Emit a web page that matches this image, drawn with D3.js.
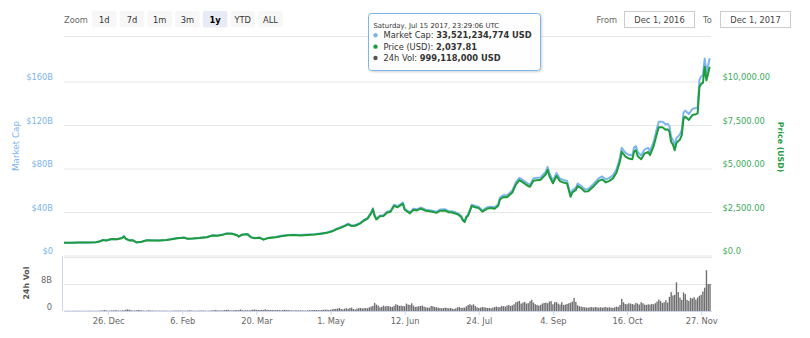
<!DOCTYPE html>
<html>
<head>
<meta charset="utf-8">
<script src="https://cdn.jsdelivr.net/npm/d3@7"></script>
<style>
  html, body { margin: 0; padding: 0; background: #fff; }
  svg { display: block; font-family: "DejaVu Sans", Verdana, sans-serif; }
</style>
</head>
<body>
<svg id="chart" width="810" height="338"></svg>
<script>
// ---- Bitcoin, Dec 1 2016 – Dec 1 2017 ----
const priceDates = [
  "2016-12-01","2016-12-05","2016-12-10","2016-12-15","2016-12-19","2016-12-21","2016-12-23","2016-12-25","2016-12-28","2016-12-31",
  "2017-01-03","2017-01-04","2017-01-05","2017-01-07","2017-01-09","2017-01-11","2017-01-14","2017-01-17","2017-01-20","2017-01-24","2017-01-28","2017-01-31",
  "2017-02-03","2017-02-07","2017-02-09","2017-02-12","2017-02-16","2017-02-20","2017-02-23","2017-02-26",
  "2017-03-01","2017-03-03","2017-03-06","2017-03-09","2017-03-10","2017-03-12","2017-03-15","2017-03-17","2017-03-19","2017-03-22","2017-03-24","2017-03-27","2017-03-31",
  "2017-04-03","2017-04-07","2017-04-10","2017-04-14","2017-04-18","2017-04-22","2017-04-26","2017-04-29",
  "2017-05-02","2017-05-04","2017-05-06","2017-05-09","2017-05-11","2017-05-13","2017-05-15","2017-05-18","2017-05-20","2017-05-22","2017-05-24","2017-05-25","2017-05-26","2017-05-27","2017-05-29","2017-05-31",
  "2017-06-02","2017-06-04","2017-06-06","2017-06-08","2017-06-11","2017-06-12","2017-06-15","2017-06-17","2017-06-19","2017-06-21","2017-06-24","2017-06-27","2017-06-30",
  "2017-07-02","2017-07-05","2017-07-07","2017-07-09","2017-07-12","2017-07-14","2017-07-15","2017-07-16","2017-07-17","2017-07-18","2017-07-20","2017-07-22","2017-07-24","2017-07-26","2017-07-29","2017-07-31",
  "2017-08-02","2017-08-04","2017-08-05","2017-08-07","2017-08-09","2017-08-12","2017-08-14","2017-08-16","2017-08-17","2017-08-19","2017-08-21","2017-08-22","2017-08-24","2017-08-26","2017-08-28","2017-08-31",
  "2017-09-01","2017-09-02","2017-09-04","2017-09-06","2017-09-08","2017-09-10","2017-09-12","2017-09-14","2017-09-15","2017-09-17","2017-09-18","2017-09-20","2017-09-22","2017-09-24","2017-09-27","2017-09-30",
  "2017-10-02","2017-10-04","2017-10-06","2017-10-08","2017-10-10","2017-10-12","2017-10-13","2017-10-15","2017-10-17","2017-10-19","2017-10-20","2017-10-21","2017-10-22","2017-10-24","2017-10-26","2017-10-28","2017-10-29","2017-10-31",
  "2017-11-02","2017-11-03","2017-11-05","2017-11-07","2017-11-08","2017-11-09","2017-11-10","2017-11-11","2017-11-12","2017-11-13","2017-11-15","2017-11-16","2017-11-17","2017-11-18","2017-11-20","2017-11-22","2017-11-24","2017-11-25","2017-11-26","2017-11-27","2017-11-28","2017-11-29","2017-11-30",
  "2017-12-01T20:00:00Z"
];

// Price in USD
const priceUsd = [
  755,760,770,778,790,830,915,895,975,960,
  1030,1130,990,895,905,780,820,905,895,890,920,965,
  1015,1055,985,1000,1035,1080,1175,1170,
  1225,1285,1275,1195,1110,1225,1250,1070,1025,1045,940,1040,1075,
  1140,1190,1205,1180,1210,1230,1285,1330,
  1420,1520,1590,1720,1820,1720,1740,1880,2040,2150,2450,2690,2300,2100,2280,2300,
  2490,2540,2880,2800,3000,2660,2450,2660,2620,2720,2600,2560,2480,
  2600,2610,2510,2500,2400,2250,2040,1950,2230,2330,2870,2800,2750,2550,2730,2760,
  2720,2890,3250,3390,3380,3650,4100,4360,4300,4160,4020,3980,4320,4360,4380,4700,
  4950,4600,4180,4600,4300,4220,4170,3400,3650,3800,4020,3900,3700,3720,4000,4320,
  4400,4230,4320,4460,4780,5450,5990,5720,5600,5560,6000,6080,5750,5560,5900,5980,5800,6300,
  7050,7400,7400,7250,7280,7150,6550,6400,6080,6500,6700,6950,7900,8010,7820,8100,8150,8200,9700,9900,9950,10880,10100,
  10880
];

// Market cap in billions of USD
const marketCapB = [
  12.12,12.20,12.36,12.49,12.68,13.32,14.69,14.36,15.65,15.41,
  16.58,18.19,15.94,14.41,14.57,12.56,13.20,14.57,14.41,14.33,14.81,15.54,
  16.40,17.05,15.92,16.16,16.73,17.45,18.99,18.91,
  19.87,20.84,20.68,19.38,18.00,19.87,20.28,17.36,16.63,16.95,15.25,16.87,17.44,
  18.55,19.36,19.61,19.20,19.69,20.01,20.91,21.64,
  23.17,24.81,25.95,28.07,29.70,28.07,28.40,30.68,33.29,35.09,39.98,43.90,37.54,34.27,37.21,37.54,
  40.79,41.61,47.17,45.86,49.14,43.57,40.13,43.57,42.92,44.55,42.59,41.93,40.62,
  42.74,42.91,41.26,41.10,39.46,36.99,33.54,32.06,36.66,38.31,47.18,46.03,45.21,41.92,44.88,45.37,
  44.88,47.69,53.63,55.94,55.77,60.23,67.65,71.94,70.95,68.64,66.33,65.67,71.28,71.94,72.27,77.55,
  81.97,76.18,69.22,76.18,71.21,69.88,69.06,56.30,60.44,62.93,66.57,64.58,61.27,61.60,66.24,71.54,
  73.13,70.30,71.80,74.13,79.44,90.58,99.55,95.07,93.07,92.41,99.72,101.05,95.57,92.41,98.06,99.39,96.40,104.71,
  117.66,123.51,123.51,121.00,121.50,119.33,109.32,106.82,101.48,108.49,111.82,116.00,131.85,133.69,130.52,135.19,136.02,136.86,161.89,165.23,166.07,181.59,168.57,
  181.91
];

// 24h volume, billions of USD, one value per day starting at volumeStart
const volumeStart = "2016-12-02";
const volumeB = [
  // Dec
  0.08,0.07,0.07,0.06,0.08,0.07,0.08,0.08,0.07,0.07,0.06,0.07,0.08,0.09,0.08,0.08,0.07,0.07,0.09,0.10,0.15,0.20,0.28,0.15,0.12,0.12,0.18,0.20,0.22,0.20,0.15,
  // Jan
  0.15,0.20,0.22,0.35,0.50,0.35,0.25,0.15,0.15,0.20,0.30,0.25,0.18,0.12,0.10,0.15,0.20,0.18,0.14,0.12,0.12,0.10,0.10,0.11,0.12,0.10,0.10,0.08,0.07,0.09,0.12,
  // Feb
  0.14,0.13,0.15,0.14,0.10,0.10,0.12,0.13,0.20,0.19,0.12,0.09,0.10,0.12,0.14,0.13,0.15,0.10,0.09,0.12,0.15,0.20,0.22,0.33,0.20,0.16,0.18,0.22,
  // Mar
  0.25,0.30,0.38,0.20,0.18,0.20,0.30,0.25,0.28,0.45,0.25,0.20,0.25,0.22,0.20,0.30,0.40,0.45,0.35,0.30,0.30,0.35,0.30,0.50,0.35,0.30,0.28,0.30,0.25,0.28,0.30,
  // Apr
  0.25,0.20,0.30,0.35,0.30,0.28,0.22,0.20,0.15,0.20,0.22,0.20,0.22,0.20,0.15,0.14,0.20,0.25,0.25,0.30,0.30,0.30,0.25,0.25,0.30,0.35,0.40,0.40,0.30,0.35,
  // May
  0.50,0.60,0.65,0.70,0.90,0.60,0.50,0.70,0.80,0.65,0.90,1.00,0.60,0.45,0.70,0.85,0.90,0.75,0.85,0.90,0.80,1.10,1.30,1.50,2.40,1.90,1.60,1.10,1.20,1.60,1.35,
  // Jun
  1.50,1.40,1.30,1.20,1.50,2.00,1.80,1.50,1.60,1.50,1.40,2.20,1.90,1.80,2.30,1.60,1.20,1.30,1.40,1.50,1.60,1.30,1.10,1.00,1.00,1.50,1.40,1.20,1.10,1.00,
  // Jul
  0.90,0.80,0.90,1.00,0.90,0.80,0.90,0.70,0.60,0.80,1.10,1.20,0.90,1.00,1.00,1.40,1.80,2.00,1.70,2.00,1.50,1.10,0.90,1.00,1.20,1.10,1.00,0.90,0.90,0.80,1.00,
  // Aug
  1.20,1.30,1.10,1.20,1.50,1.40,1.30,1.60,1.80,1.50,1.70,2.00,2.60,2.80,3.00,2.20,2.50,2.70,2.20,2.30,2.90,3.30,2.50,2.00,1.80,1.60,1.80,2.20,2.40,2.50,2.30,
  // Sep
  2.80,2.90,2.00,2.60,2.70,2.20,1.90,2.60,1.80,1.90,2.10,2.30,2.50,2.80,3.90,2.70,1.70,1.40,1.30,1.20,1.10,1.00,1.00,1.10,1.20,1.00,1.20,1.10,1.00,1.10,
  // Oct
  1.00,1.10,1.20,1.00,1.10,1.00,0.90,1.10,1.30,1.20,1.80,3.60,2.60,2.10,2.00,2.30,2.20,2.10,1.90,2.40,2.20,1.90,2.60,2.30,1.90,1.80,2.00,1.90,2.10,2.00,2.30,
  // Nov
  2.80,3.40,3.00,2.40,2.60,3.20,2.50,4.20,5.60,4.60,4.80,8.50,5.60,4.00,3.30,5.50,5.00,3.30,3.00,3.90,3.70,4.10,3.40,4.00,4.50,4.80,5.80,6.90,12.10,8.00,
  // Dec
  8.00
];

// Axis ticks and labels
const capTicks = [0, 40, 80, 120, 160];
const capTickLabels = ["$0", "$40B", "$80B", "$120B", "$160B"];
const priceTicks = [0, 2500, 5000, 7500, 10000];
const priceTickLabels = ["$0.0", "$2,500.00", "$5,000.00", "$7,500.00", "$10,000.00"];
const volTicks = [0, 8, 16];
const volTickLabels = ["0", "8B", ""];
const dateTicks = ["2016-12-26","2017-02-06","2017-03-20","2017-05-01","2017-06-12","2017-07-24","2017-09-04","2017-10-16","2017-11-27"];

// Range selector and tooltip text
const zoomButtons = ["1d", "7d", "1m", "3m", "1y", "YTD", "ALL"];
const selectedZoom = "1y";
const rangeFrom = "Dec 1, 2016";
const rangeTo = "Dec 1, 2017";
const tooltipHeader = "Saturday, Jul 15 2017, 23:29:06 UTC";
const tooltipLabels = ["Market Cap:", "Price (USD):", "24h Vol:"];
const tooltipValues = ["33,521,234,774 USD", "2,037.81", "999,118,000 USD"];

// ---- drawing ----
const C = {
  cap: "#7cb5ec",
  price: "#1c9c3c",
  priceLabel: "#3cab5c",
  vol: "#6e6e6e",
  grid: "#e6e6e6",
  axis: "#ccd6eb",
  text: "#666"
};
const FS = 8.3;
const FONT = '"DejaVu Sans", Verdana, sans-serif';
const svg = d3.select("#chart");
const parse = d3.isoParse;

const plotLeft = 64, plotRight = 712;
const x = d3.scaleUtc()
  .domain([parse("2016-12-01"), parse("2017-12-02")])
  .range([64, 710]);
const yCap = d3.scaleLinear().domain([0, 160]).range([256, 82]);
const yPrice = d3.scaleLinear().domain([0, 10000]).range([256, 82]);
const yVol = d3.scaleLinear().domain([0, 16]).range([311, 257]);

const priceData = priceDates.map((d, i) => ({ date: parse(d), price: priceUsd[i], cap: marketCapB[i] }));
const volStart = parse(volumeStart);
const volData = volumeB.map((v, i) => ({ date: d3.utcDay.offset(volStart, i), v }));

// separator under the range selector
svg.append("line")
  .attr("x1", 64).attr("x2", 711).attr("y1", 36.5).attr("y2", 36.5)
  .attr("stroke", C.grid).attr("stroke-width", 1);

// gridlines of the main pane
svg.append("g")
  .attr("transform", `translate(${plotLeft},-0.5)`)
  .call(d3.axisLeft(yCap).tickValues(capTicks).tickSize(-(plotRight - plotLeft)).tickFormat(""))
  .call(g => g.select(".domain").remove())
  .call(g => g.selectAll(".tick line").attr("stroke", C.grid));

// gridlines of the volume pane
svg.append("g")
  .attr("transform", `translate(${plotLeft},0)`)
  .call(d3.axisLeft(yVol).tickValues(volTicks).tickSize(-(plotRight - plotLeft)).tickFormat(""))
  .call(g => g.select(".domain").remove())
  .call(g => g.selectAll(".tick line").attr("stroke", C.grid));

// left axis labels: market cap
svg.append("g")
  .attr("transform", "translate(53,0)")
  .call(d3.axisLeft(yCap).tickValues(capTicks).tickSize(0).tickPadding(0)
    .tickFormat((d, i) => capTickLabels[i]))
  .call(g => g.select(".domain").remove())
  .call(g => g.selectAll("text").attr("y", -5).attr("fill", C.cap)
    .style("font-size", FS + "px").style("font-family", FONT));

// right axis labels: price
svg.append("g")
  .attr("transform", "translate(722.5,0)")
  .call(d3.axisRight(yPrice).tickValues(priceTicks).tickSize(0).tickPadding(0)
    .tickFormat((d, i) => priceTickLabels[i]))
  .call(g => g.select(".domain").remove())
  .call(g => g.selectAll("text").attr("y", -5).attr("fill", C.priceLabel)
    .style("font-size", FS + "px").style("font-family", FONT));

// volume axis labels
svg.append("g")
  .attr("transform", "translate(52,0)")
  .call(d3.axisLeft(yVol).tickValues(volTicks).tickSize(0).tickPadding(0)
    .tickFormat((d, i) => volTickLabels[i]))
  .call(g => g.select(".domain").remove())
  .call(g => g.selectAll("text").attr("y", -4).attr("fill", C.text)
    .style("font-size", FS + "px").style("font-family", FONT));

// volume pane left axis line
svg.append("line")
  .attr("x1", 62.5).attr("x2", 62.5).attr("y1", 256).attr("y2", 311)
  .attr("stroke", C.axis);

// volume bars
const pitch = x(d3.utcDay.offset(volStart, 1)) - x(volStart);
const barW = pitch * 0.78;
svg.append("g")
  .selectAll("rect")
  .data(volData)
  .join("rect")
  .attr("x", d => x(d.date) - barW / 2)
  .attr("width", barW)
  .attr("y", d => yVol(d.v))
  .attr("height", d => yVol(0) - yVol(d.v))
  .attr("fill", C.vol);

// x axis
svg.append("g")
  .attr("transform", "translate(0,311)")
  .call(d3.axisBottom(x).tickValues(dateTicks.map(parse)).tickSize(4).tickSizeOuter(0)
    .tickFormat(d3.utcFormat("%-d. %b")))
  .call(g => g.select(".domain").attr("stroke", C.axis).attr("d", `M${plotLeft},0.5H${plotRight}`))
  .call(g => g.selectAll(".tick line").attr("stroke", C.axis))
  .call(g => g.selectAll("text").attr("y", 7.5).attr("fill", C.text)
    .style("font-size", FS + "px").style("font-family", FONT));

// market cap line (under) and price line (over)
const capLine = d3.line().x(d => x(d.date)).y(d => yCap(d.cap));
const priceLine = d3.line().x(d => x(d.date)).y(d => yPrice(d.price));
svg.append("path").datum(priceData)
  .attr("d", capLine).attr("fill", "none")
  .attr("stroke", C.cap).attr("stroke-width", 2).attr("stroke-linejoin", "round");
svg.append("path").datum(priceData)
  .attr("d", priceLine).attr("fill", "none")
  .attr("stroke", C.price).attr("stroke-width", 2).attr("stroke-linejoin", "round");

// axis titles
svg.append("text")
  .attr("transform", "translate(18.5,146) rotate(-90)")
  .attr("text-anchor", "middle").attr("fill", C.cap)
  .style("font-size", "8.8px").text("Market Cap");
svg.append("text")
  .attr("transform", "translate(777.5,147) rotate(90)")
  .attr("text-anchor", "middle").attr("fill", C.price).attr("font-weight", "bold")
  .style("font-size", "7.8px").text("Price (USD)");
svg.append("text")
  .attr("transform", "translate(28.5,283) rotate(-90)")
  .attr("text-anchor", "middle").attr("fill", "#555").attr("font-weight", "bold")
  .style("font-size", "7.8px").text("24h Vol");

// range selector
const selector = svg.append("g").style("font-size", FS + "px");
selector.append("text").attr("x", 64).attr("y", 22.5).attr("fill", C.text).text("Zoom");
const btn = selector.selectAll("g.btn").data(zoomButtons).join("g")
  .attr("class", "btn")
  .attr("transform", (d, i) => `translate(${92 + i * 27.7},11)`);
btn.append("rect")
  .attr("width", 24.5).attr("height", 16.5).attr("rx", 2)
  .attr("fill", d => d === selectedZoom ? "#e6ebf5" : "#f7f7f7");
btn.append("text")
  .attr("x", 12.25).attr("y", 11.5).attr("text-anchor", "middle")
  .attr("fill", d => d === selectedZoom ? "#000" : "#333")
  .attr("font-weight", d => d === selectedZoom ? "bold" : "normal")
  .text(d => d);

selector.append("text").attr("x", 596.5).attr("y", 22.5).attr("fill", C.text).text("From");
selector.append("text").attr("x", 703).attr("y", 22.5).attr("fill", C.text).text("To");
[[624.5, rangeFrom], [720.5, rangeTo]].forEach(([bx, label]) => {
  selector.append("rect").attr("x", bx).attr("y", 11.5).attr("width", 70).attr("height", 16)
    .attr("fill", "#fff").attr("stroke", "#cccccc");
  selector.append("text").attr("x", bx + 35).attr("y", 22.5).attr("text-anchor", "middle")
    .attr("fill", "#444").text(label);
});

// tooltip
const defs = svg.append("defs");
const f = defs.append("filter").attr("id", "tipShadow")
  .attr("x", "-10%").attr("y", "-10%").attr("width", "130%").attr("height", "140%");
f.append("feDropShadow").attr("dx", 1).attr("dy", 1).attr("stdDeviation", 1)
  .attr("flood-color", "#000").attr("flood-opacity", 0.18);

const tip = svg.append("g").attr("transform", "translate(368.5,13.5)");
tip.append("rect")
  .attr("width", 172).attr("height", 57).attr("rx", 3)
  .attr("fill", "rgba(255,255,255,0.96)").attr("stroke", C.cap).attr("stroke-width", 1)
  .attr("filter", "url(#tipShadow)");
tip.append("text").attr("x", 5).attr("y", 14).attr("fill", "#333")
  .style("font-size", "6.9px").text(tooltipHeader);
const dotColors = [C.cap, C.price, "#555"];
tooltipLabels.forEach((lab, i) => {
  const cy = 21.8 + i * 11.35;
  tip.append("circle").attr("cx", 7).attr("cy", cy).attr("r", 2.2).attr("fill", dotColors[i]);
  const t = tip.append("text").attr("x", 15).attr("y", cy + 3.1)
    .attr("fill", "#333").style("font-size", FS + "px");
  t.append("tspan").text(lab + " ");
  t.append("tspan").attr("font-weight", "bold").text(tooltipValues[i]);
});
</script>
</body>
</html>
